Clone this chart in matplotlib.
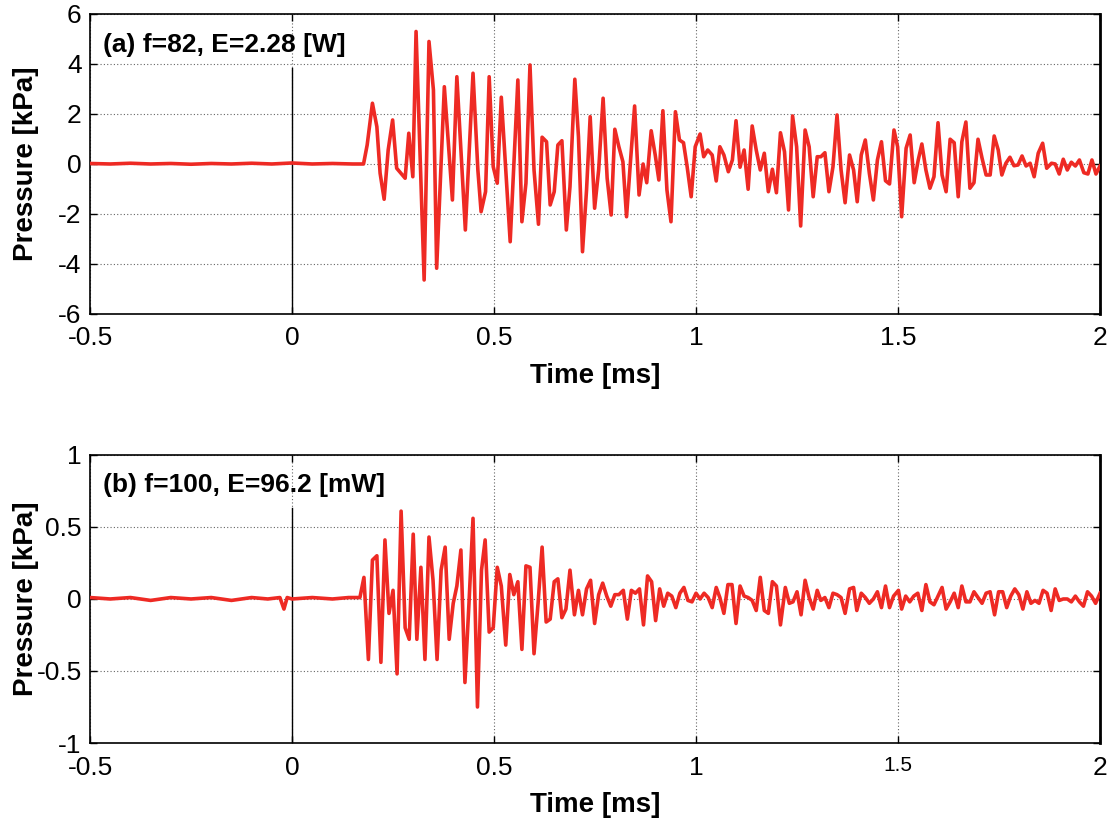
import matplotlib.pyplot as plt

plt.rcParams["font.family"] = ["Liberation Sans", "DejaVu Sans"]

# (a) f=82 -- vertices
t_a = [-0.50, -0.45, -0.40, -0.35, -0.30, -0.25, -0.20, -0.15, -0.10, -0.05, 0.00, 0.05, 0.10, 0.15, 0.177,
       0.186, 0.199, 0.210, 0.218, 0.228, 0.238, 0.249, 0.259, 0.280, 0.289, 0.299, 0.307, 0.327, 0.339,
       0.350, 0.358, 0.377, 0.397, 0.408, 0.429, 0.448, 0.460, 0.468, 0.479, 0.488, 0.498, 0.508,
       0.518, 0.540, 0.559, 0.569, 0.579, 0.589, 0.599, 0.610, 0.619, 0.630, 0.639, 0.649, 0.658, 0.668,
       0.679, 0.688, 0.700, 0.709, 0.719, 0.729, 0.738, 0.749, 0.759, 0.770, 0.780, 0.790, 0.799, 0.809,
       0.819, 0.828, 0.838, 0.848, 0.859, 0.869, 0.878, 0.889, 0.899, 0.908, 0.918, 0.928, 0.938, 0.949,
       0.959, 0.969, 0.978, 0.988, 0.998,
       1.010, 1.019, 1.029, 1.040, 1.050, 1.059, 1.069, 1.080, 1.090, 1.099, 1.109, 1.119, 1.129, 1.139,
       1.149, 1.159, 1.169, 1.179, 1.189, 1.199, 1.209, 1.219, 1.229, 1.239, 1.249, 1.259, 1.270, 1.280,
       1.290, 1.300, 1.309, 1.319, 1.329, 1.339, 1.349, 1.359, 1.369, 1.380, 1.390, 1.399, 1.409, 1.419,
       1.429, 1.439, 1.449, 1.459, 1.469, 1.479, 1.490, 1.499,
       1.509, 1.520, 1.530, 1.540, 1.550, 1.559, 1.569, 1.579, 1.589, 1.599, 1.609, 1.619, 1.629, 1.639,
       1.649, 1.658, 1.668, 1.678, 1.688, 1.698, 1.708, 1.718, 1.728, 1.738, 1.748, 1.757, 1.767, 1.777,
       1.787, 1.797, 1.807, 1.817, 1.827, 1.837, 1.847, 1.858, 1.868, 1.880, 1.889, 1.899, 1.909, 1.919,
       1.929, 1.939, 1.949, 1.960, 1.970, 1.980, 1.990, 2.000]
p_a = [0.02, 0.00, 0.03, 0.00, 0.02, -0.01, 0.02, 0.00, 0.03, 0.00, 0.04, 0.00, 0.02, 0.00, 0.00,
       0.76, 2.43, 1.49, -0.37, -1.41, 0.56, 1.76, -0.17, -0.57, 1.23, -0.51, 5.30, -4.64, 4.90,
       2.96, -4.17, 3.09, -1.44, 3.49, -2.64, 3.63, -0.24, -1.91, -1.11, 3.49, -0.11, -0.77,
       2.67, -3.11, 3.36, -2.31, -0.77, 3.96, -0.24, -2.41, 1.07, 0.89, -1.64, -1.11, 0.76, 0.93,
       -2.64, -0.91, 3.39, 1.09, -3.51, -1.04, 1.89, -1.77, -0.24, 2.63, -0.57, -2.04, 1.39, 0.69,
       0.09, -2.11, 0.16, 2.32, -1.24, 0.00, -0.75, 1.33, 0.36, -0.64, 2.13, -1.04, -2.31, 2.09,
       0.96, 0.85, -0.11, -1.31, 0.69,
       1.20, 0.29, 0.56, 0.36, -0.68, 0.69, 0.36, -0.31, 0.16, 1.73, -0.13, 0.56, -1.01, 1.52,
       0.56, -0.24, 0.43, -1.11, -0.21, -1.15, 1.25, 0.49, -1.84, 1.92, 0.69, -2.48, 1.36, 0.69,
       -1.31, 0.29, 0.29, 0.45, -1.11, -0.11, 1.96, -0.24, -1.55, 0.36, -0.24, -1.51, 0.36, 0.96,
       -0.37, -1.44, 0.16, 0.89, -0.67, -0.80, 1.36, 0.69,
       -2.11, 0.63, 1.16, -0.75, 0.16, 0.80, -0.24, -0.97, -0.51, 1.65, -0.44, -1.11, 0.99, 0.85,
       -1.31, 0.89, 1.68, -0.97, -0.75, 0.99, 0.23, -0.44, -0.44, 1.12, 0.56, -0.44, 0.03, 0.27,
       -0.07, -0.04, 0.32, -0.08, 0.03, -0.51, 0.43, 0.83, -0.17, 0.03, 0.00, -0.40, 0.19, -0.24,
       0.07, -0.08, 0.16, -0.35, -0.40, 0.16, -0.40, -0.08]

# (b) f=100 -- vertices
t_b = [-0.50, -0.45, -0.40, -0.35, -0.30, -0.25, -0.20, -0.15, -0.10, -0.06, -0.03, -0.02, -0.012, 0.00,
       0.05, 0.10, 0.14, 0.168,
       0.178, 0.189, 0.199, 0.210, 0.220, 0.230, 0.240, 0.250, 0.260, 0.270, 0.280, 0.290, 0.300, 0.309,
       0.319, 0.329, 0.339, 0.349, 0.359, 0.369, 0.379, 0.389, 0.399, 0.408, 0.418, 0.428, 0.438, 0.448,
       0.459, 0.469, 0.478, 0.488, 0.498, 0.508,
       0.518, 0.529, 0.539, 0.549, 0.559, 0.569, 0.579, 0.589, 0.599, 0.609, 0.619, 0.629, 0.639, 0.649,
       0.658, 0.668, 0.678, 0.688, 0.699, 0.709, 0.719, 0.729, 0.739, 0.749, 0.759, 0.769, 0.779, 0.789,
       0.799, 0.809, 0.820, 0.830, 0.840, 0.850, 0.860, 0.870, 0.880, 0.890, 0.900, 0.910, 0.920, 0.930,
       0.940, 0.950, 0.960, 0.970, 0.980, 0.990,
       1.000, 1.010, 1.020, 1.030, 1.040, 1.050, 1.059, 1.069, 1.079, 1.089, 1.099, 1.109, 1.119, 1.129,
       1.139, 1.149, 1.159, 1.169, 1.179, 1.189, 1.199, 1.209, 1.221, 1.231, 1.240, 1.250, 1.260, 1.270,
       1.280, 1.290, 1.300, 1.309, 1.319, 1.329, 1.339, 1.349, 1.359, 1.369, 1.380, 1.390, 1.398, 1.409,
       1.419, 1.429, 1.439, 1.449, 1.459, 1.469, 1.479, 1.489, 1.501,
       1.509, 1.519, 1.529, 1.539, 1.549, 1.559, 1.569, 1.579, 1.589, 1.599, 1.609, 1.619, 1.629, 1.639,
       1.649, 1.658, 1.668, 1.678, 1.688, 1.698, 1.708, 1.718, 1.728, 1.739, 1.749, 1.759, 1.769, 1.779,
       1.789, 1.799, 1.809, 1.819, 1.829, 1.839, 1.849, 1.859, 1.869, 1.879, 1.889, 1.899, 1.909, 1.919,
       1.929, 1.939, 1.949, 1.959, 1.969, 1.979, 1.989, 2.000]
p_b = [0.01, 0.00, 0.01, -0.01, 0.01, 0.00, 0.01, -0.01, 0.01, 0.00, 0.01, -0.07, 0.01, 0.00,
       0.01, 0.00, 0.01, 0.01,
       0.15, -0.42, 0.27, 0.30, -0.44, 0.41, -0.10, 0.06, -0.52, 0.61, -0.20, -0.28, 0.45, -0.28,
       0.22, -0.42, 0.43, 0.13, -0.42, 0.20, 0.36, -0.28, -0.03, 0.09, 0.34, -0.58, -0.03, 0.56,
       -0.75, 0.20, 0.41, -0.23, -0.20, 0.22,
       0.09, -0.32, 0.17, 0.03, 0.12, -0.35, 0.23, 0.22, -0.38, -0.03, 0.36, -0.16, -0.14, 0.12,
       0.14, -0.13, -0.07, 0.20, -0.11, 0.06, -0.11, 0.07, 0.13, -0.17, 0.03, 0.11, 0.02, -0.05,
       0.03, 0.03, 0.06, -0.14, 0.06, 0.04, 0.07, -0.18, 0.16, 0.12, -0.15, 0.07, -0.05, 0.04,
       0.02, -0.06, 0.04, 0.08, -0.01, -0.02,
       0.04, 0.00, 0.04, 0.01, -0.06, 0.08, 0.01, -0.10, 0.10, 0.10, -0.17, 0.09, 0.02, 0.01,
       -0.01, -0.08, 0.15, -0.08, -0.10, 0.12, 0.09, -0.18, 0.08, -0.03, -0.02, 0.05, -0.11, 0.13,
       0.01, -0.07, 0.06, -0.01, 0.01, -0.06, 0.04, 0.03, 0.01, -0.10, 0.07, 0.08, -0.08, 0.04,
       0.01, -0.03, 0.00, 0.05, -0.06, 0.09, -0.06, 0.02, 0.06,
       -0.07, 0.02, -0.02, 0.02, 0.04, -0.08, 0.10, -0.02, -0.04, 0.02, 0.08, -0.07, -0.02, 0.04,
       -0.06, 0.09, -0.02, -0.02, 0.05, 0.01, -0.03, 0.04, 0.05, -0.11, 0.05, 0.05, -0.06, 0.02,
       0.07, 0.03, -0.07, 0.05, -0.03, -0.01, -0.03, 0.06, 0.04, -0.08, 0.07, -0.01, 0.00, 0.00,
       -0.02, 0.02, -0.02, -0.05, 0.05, 0.02, -0.03, 0.04]

x_ticks = [-0.5, 0, 0.5, 1, 1.5, 2]
x_ticklabels = ["-0.5", "0", "0.5", "1", "1.5", "2"]
y_ticks_a = [-6, -4, -2, 0, 2, 4, 6]
y_ticks_b = [-1, -0.5, 0, 0.5, 1]
y_ticklabels_b = ["-1", "-0.5", "0", "0.5", "1"]

RED = "#ee2a24"

fig = plt.figure(figsize=(11.17, 8.23), dpi=100)
ax_a = fig.add_axes([0.0806, 0.6185, 0.9042, 0.3645])
ax_b = fig.add_axes([0.0806, 0.0972, 0.9042, 0.3500])


def style_axes(ax, ylim, yticks, ylabels, label_txt, vline_top):
    ax.set_xlim(-0.5, 2)
    ax.set_ylim(*ylim)
    ax.set_xticks(x_ticks)
    ax.set_xticklabels(x_ticklabels)
    ax.set_yticks(yticks)
    ax.set_yticklabels(ylabels)
    ax.tick_params(direction="in", length=5, width=1, labelsize=19,
                   top=True, right=True)
    ax.tick_params(axis="x", pad=9)
    ax.tick_params(axis="y", pad=6)
    ax.grid(True, color="#666666", linestyle=(0, (1, 2)), linewidth=0.8)
    for s in ax.spines.values():
        s.set_linewidth(1.2)
    ax.spines["right"].set_linewidth(2.0)
    ax.set_xlabel("Time [ms]", fontsize=20, fontweight="bold", labelpad=9)
    ax.set_ylabel("Pressure [kPa]", fontsize=20, fontweight="bold")
    # both y labels sit at the same x in the source figure
    ax.yaxis.set_label_coords(-0.051, 0.5)
    ax.plot([0, 0], [ylim[0], vline_top], color="black", linewidth=1.0, zorder=2)
    ax.text(0.013, 0.895, label_txt, transform=ax.transAxes, fontsize=19,
            fontweight="bold", va="center", ha="left")


style_axes(ax_a, (-6, 6), y_ticks_a, [str(v) for v in y_ticks_a],
           "(a) f=82, E=2.28 [W]", 3.85)
style_axes(ax_b, (-1, 1), y_ticks_b, y_ticklabels_b,
           "(b) f=100, E=96.2 [mW]", 0.63)
# the 1.5 label of the lower panel is printed smaller in the source figure
ax_b.get_xticklabels()[4].set_fontsize(15)

ax_a.plot(t_a, p_a, color=RED, linewidth=2.6, zorder=3)
ax_b.plot(t_b, p_b, color=RED, linewidth=2.6, zorder=3)

fig.savefig("out.png", dpi=100)
